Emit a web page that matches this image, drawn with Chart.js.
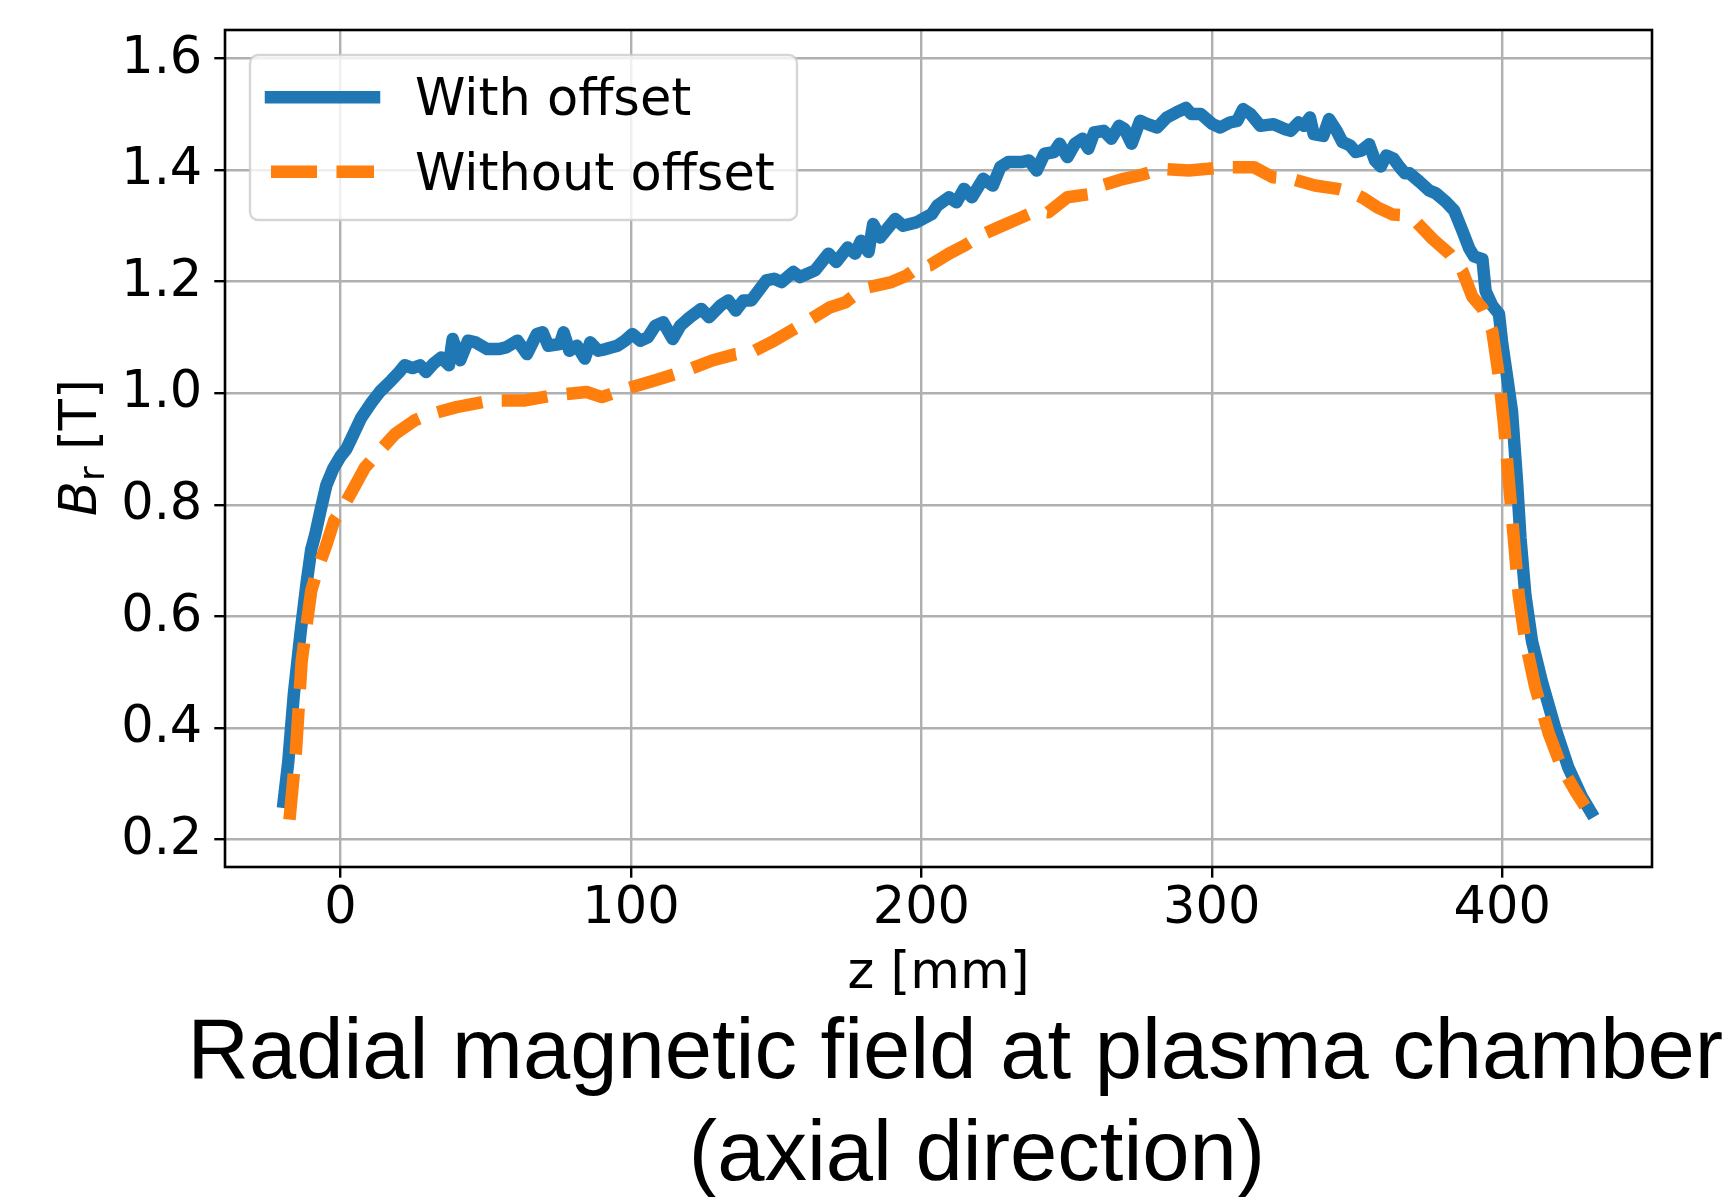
<!DOCTYPE html>
<html>
<head>
<meta charset="utf-8">
<script src="https://cdn.jsdelivr.net/npm/chart.js@4"></script>
<style>
  html, body { margin: 0; padding: 0; background: #fff; }
  canvas { display: block; }
</style>
</head>
<body>
<canvas id="fieldChart" width="1723" height="1197"></canvas>
<script>
// Données : z en mm, Br en T
const withOffsetZ = [-19.6,-18.0,-16.1,-13.8,-11.7,-10.1,-8.8,-6.9,-4.9,-2.5,
  0,2,4.3,7,10.9,13.6,17.5,20.2,22.1,24.8,
  27.4,29.4,32,34.7,37.3,38.6,41.2,43.9,46.5,50.5,
  54.4,57,60.9,64.2,67.6,69.6,71.5,75.5,76.8,78.8,
  81.4,84.1,86,88.7,91.3,95.3,97.9,100.5,103.2,105.8,
  108.4,111.1,114.4,117,120.3,124.2,126.9,130.8,133.5,136.1,
  138.7,141.4,144,146.6,149.3,151.9,155.9,158.2,163.4,168,
  170.7,174.6,177.2,179.2,181.8,183.4,185.8,191,193.7,198.3,
  203.6,205.5,209.5,212.1,214.7,217.4,221.3,224.6,227.2,229.9,
  234.5,237.1,239.7,242.4,245.7,247.6,250.3,252.9,255.5,257.5,
  259.5,262.8,265.4,268.1,270,272.4,275.3,277.9,281.2,284.5,
  287.8,291.1,293,296.3,300.3,302.9,306.2,308.8,310.8,313.4,
  316.7,321.3,325.3,327.2,329.9,331.8,333.8,335.1,338.4,340.4,
  343,345,347.6,349.6,351.6,354.2,356.2,358.2,360.1,362.6,
  364.7,366.5,368.1,371.5,374.9,377.2,380.6,383.5,386.3,388.6,
  390.3,393.2,394.3,396.6,398.9,400,401.7,403.4,405.1,406.3,
  408,410.3,413.7,418.2,422.8,427.4,430.5];
const withOffsetB = [0.268,0.34,0.46,0.57,0.66,0.72,0.745,0.79,0.835,0.865,
  0.887,0.90,0.925,0.955,0.985,1.003,1.023,1.038,1.050,1.045,
  1.050,1.038,1.053,1.064,1.050,1.097,1.059,1.094,1.091,1.079,
  1.079,1.082,1.094,1.070,1.106,1.109,1.085,1.088,1.109,1.076,
  1.085,1.062,1.091,1.076,1.079,1.085,1.094,1.106,1.094,1.100,
  1.121,1.127,1.097,1.121,1.136,1.151,1.136,1.157,1.166,1.148,
  1.166,1.166,1.184,1.202,1.205,1.199,1.217,1.208,1.220,1.250,
  1.235,1.261,1.250,1.273,1.253,1.303,1.279,1.312,1.300,1.306,
  1.321,1.336,1.351,1.342,1.366,1.351,1.384,1.372,1.405,1.414,
  1.414,1.417,1.399,1.429,1.432,1.447,1.423,1.447,1.456,1.438,
  1.467,1.470,1.456,1.479,1.473,1.447,1.488,1.482,1.476,1.494,
  1.503,1.511,1.500,1.500,1.482,1.476,1.485,1.488,1.509,1.500,
  1.479,1.482,1.473,1.470,1.485,1.479,1.494,1.464,1.461,1.491,
  1.470,1.450,1.444,1.432,1.435,1.446,1.417,1.406,1.426,1.420,
  1.405,1.394,1.394,1.379,1.363,1.358,1.343,1.327,1.291,1.260,
  1.245,1.240,1.183,1.157,1.142,1.090,1.029,0.967,0.843,0.741,
  0.638,0.555,0.483,0.401,0.329,0.277,0.25];

const withoutOffsetZ = [-17.6,-15.4,-13.4,-10.1,-8.2,-4.9,-2.2,0.4,4.3,8.3,
  12.3,18.8,25.4,29.4,39.9,51.8,63.6,72.9,84.7,90,
  96.6,108.4,117.7,128.2,136.1,141.4,149.3,157.2,168.6,173.9,
  179.2,181.8,189.7,195,199,202.9,209.5,214.7,221.3,229.2,
  234.5,239.7,243.7,250.3,258.2,262.1,269.7,275,282.9,292.1,
  298.7,303.9,314.5,321,327.6,335.5,343.4,348,352,357,
  362.4,365.8,370.4,376.1,381.8,386.3,389.7,393.2,396.6,398.9,
  400.6,402.3,404,405.7,408,411.4,416,420.5,425.1,428.5];
const withoutOffsetB = [0.236,0.356,0.52,0.646,0.68,0.728,0.772,0.791,0.828,0.866,
  0.89,0.927,0.951,0.96,0.975,0.987,0.987,0.996,1.002,0.993,
  1.005,1.023,1.038,1.059,1.07,1.073,1.094,1.118,1.154,1.163,
  1.184,1.19,1.199,1.211,1.226,1.229,1.25,1.264,1.285,1.303,
  1.315,1.327,1.324,1.351,1.357,1.372,1.384,1.39,1.402,1.399,
  1.402,1.405,1.405,1.387,1.384,1.372,1.366,1.36,1.35,1.333,
  1.32,1.319,1.307,1.276,1.25,1.219,1.173,1.152,1.111,1.029,
  0.946,0.843,0.741,0.638,0.555,0.473,0.391,0.329,0.288,0.26];

const seriesLabels = ['With offset', 'Without offset'];
const xTicks = [0, 100, 200, 300, 400];
const yTicks = [0.2, 0.4, 0.6, 0.8, 1.0, 1.2, 1.4, 1.6];

const BLUE = '#1f77b4';
const ORANGE = '#ff7f0e';
const LINE_W = 12.5;
const DASH = [46, 19.5];

Chart.defaults.font.family = "'DejaVu Sans', sans-serif";
Chart.defaults.color = '#000';

const toPoints = (zs, bs) => zs.map((z, i) => ({ x: z, y: bs[i] }));

// cadre, légende, titres
const decorations = {
  id: 'decorations',
  afterDatasetsDraw(chart) {
    const { ctx, chartArea: a } = chart;
    ctx.save();
    ctx.strokeStyle = '#000';
    ctx.lineWidth = 2.6;
    ctx.strokeRect(a.left, a.top, a.right - a.left, a.bottom - a.top);
    ctx.restore();
  },
  afterDraw(chart) {
    const ctx = chart.ctx;
    const ds = chart.data.datasets;
    ctx.save();

    // légende
    const bx = 250, by = 55, bw = 547, bh = 165, r = 8;
    ctx.beginPath();
    ctx.moveTo(bx + r, by);
    ctx.lineTo(bx + bw - r, by);
    ctx.arcTo(bx + bw, by, bx + bw, by + r, r);
    ctx.lineTo(bx + bw, by + bh - r);
    ctx.arcTo(bx + bw, by + bh, bx + bw - r, by + bh, r);
    ctx.lineTo(bx + r, by + bh);
    ctx.arcTo(bx, by + bh, bx, by + bh - r, r);
    ctx.lineTo(bx, by + r);
    ctx.arcTo(bx, by, bx + r, by, r);
    ctx.closePath();
    ctx.fillStyle = 'rgba(255,255,255,0.8)';
    ctx.fill();
    ctx.strokeStyle = 'rgba(204,204,204,0.8)';
    ctx.lineWidth = 2.4;
    ctx.stroke();

    const rows = [97.3, 171.7];
    ds.forEach((d, i) => {
      ctx.beginPath();
      ctx.moveTo(271, rows[i]);
      ctx.lineTo(374, rows[i]);
      ctx.strokeStyle = d.borderColor;
      ctx.lineWidth = LINE_W;
      ctx.lineCap = d.borderCapStyle;
      ctx.setLineDash(d.borderDash || []);
      ctx.stroke();
      ctx.setLineDash([]);
      ctx.fillStyle = '#000';
      ctx.font = "51px 'DejaVu Sans'";
      ctx.textAlign = 'left';
      ctx.textBaseline = 'alphabetic';
      ctx.fillText(d.label, 415, rows[i] + 18);
    });

    // titre de l'axe x
    ctx.fillStyle = '#000';
    ctx.font = "51px 'DejaVu Sans'";
    ctx.textAlign = 'center';
    ctx.textBaseline = 'alphabetic';
    ctx.fillText('z [mm]', 938.5, 988.3);

    // titre de l'axe y : B italique, r en indice
    ctx.save();
    ctx.translate(96, 0);
    ctx.rotate(-Math.PI / 2);
    ctx.textAlign = 'left';
    ctx.font = "oblique 51px 'DejaVu Sans'";
    const wB = ctx.measureText('B').width;
    ctx.font = "35.7px 'DejaVu Sans'";
    const wR = ctx.measureText('r').width;
    ctx.font = "51px 'DejaVu Sans'";
    const wT = ctx.measureText(' [T]').width;
    const total = wB + wR + wT;
    let x0 = -447.5 - total / 2;
    ctx.font = "oblique 51px 'DejaVu Sans'";
    ctx.fillText('B', x0, 0);
    ctx.font = "35.7px 'DejaVu Sans'";
    ctx.fillText('r', x0 + wB, 7.8);
    ctx.font = "51px 'DejaVu Sans'";
    ctx.fillText(' [T]', x0 + wB + wR, 0);
    ctx.restore();

    // titre principal
    ctx.font = "85px 'Liberation Sans'";
    ctx.textAlign = 'left';
    ctx.fillText('Radial magnetic field at plasma chamber', 187.5, 1078.3);
    ctx.textAlign = 'center';
    ctx.fillText('(axial direction)', 977, 1180);

    ctx.restore();
  }
};

const ctx = document.getElementById('fieldChart').getContext('2d');
new Chart(ctx, {
  type: 'line',
  data: {
    datasets: [{
      label: seriesLabels[0],
      data: toPoints(withOffsetZ, withOffsetB),
      borderColor: BLUE,
      borderWidth: LINE_W,
      borderCapStyle: 'square',
      borderJoinStyle: 'round',
      pointRadius: 0,
      tension: 0,
      fill: false,
      order: 1
    }, {
      label: seriesLabels[1],
      data: toPoints(withoutOffsetZ, withoutOffsetB),
      borderColor: ORANGE,
      borderWidth: LINE_W,
      borderDash: DASH,
      borderCapStyle: 'butt',
      borderJoinStyle: 'round',
      pointRadius: 0,
      tension: 0,
      fill: false,
      order: 0
    }]
  },
  options: {
    responsive: false,
    animation: false,
    devicePixelRatio: 1,
    layout: { padding: { left: 0, top: 30, right: 71, bottom: 0 } },
    plugins: { legend: { display: false }, tooltip: { enabled: false } },
    scales: {
      x: {
        type: 'linear',
        min: -39.8,
        max: 451.6,
        afterBuildTicks: s => { s.ticks = xTicks.map(v => ({ value: v })); },
        afterFit: s => { s.height = 330; s.paddingLeft = 0; s.paddingRight = 0; },
        grid: { color: '#b0b0b0', lineWidth: 2.4, tickColor: '#000', tickLength: 10.7, tickWidth: 2.4 },
        border: { display: false },
        ticks: { font: { size: 51 }, color: '#000', padding: 1, maxRotation: 0, autoSkip: false,
                 callback: v => String(v) }
      },
      y: {
        type: 'linear',
        min: 0.151,
        max: 1.6507,
        afterBuildTicks: s => { s.ticks = yTicks.map(v => ({ value: v })); },
        afterFit: s => { s.width = 225; s.paddingTop = 0; s.paddingBottom = 0; },
        grid: { color: '#b0b0b0', lineWidth: 2.4, tickColor: '#000', tickLength: 10.7, tickWidth: 2.4 },
        border: { display: false },
        ticks: { font: { size: 51 }, color: '#000', padding: 12, labelOffset: 1, autoSkip: false,
                 callback: v => v.toFixed(1) }
      }
    }
  },
  plugins: [decorations]
});
</script>
</body>
</html>
